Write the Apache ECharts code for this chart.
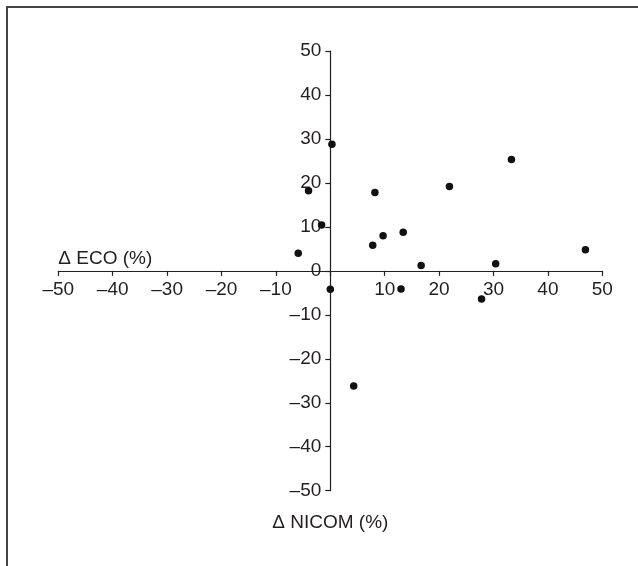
<!DOCTYPE html>
<html>
<head>
<meta charset="utf-8">
<script src="https://cdn.jsdelivr.net/npm/echarts@6/dist/echarts.min.js"></script>
<style>
  html, body { margin: 0; padding: 0; background: #fff; }
  #main { width: 638px; height: 566px; }
</style>
</head>
<body>
<div id="main"></div>
<script>
// Δ NICOM (%) / Δ ECO (%) readings, one pair per point
const nicom = [0.3, -4.0, 8.2, 21.9, 33.3, -1.6, -5.9, 7.8, 9.7, 13.4, 16.7, 30.4, 46.9, 0.0, 13.0, 27.8, 4.3];
const eco   = [28.8, 18.2, 17.8, 19.2, 25.3, 10.4, 4.0, 5.8, 8.0, 8.8, 1.2, 1.6, 4.8, -4.2, -4.1, -6.4, -26.2];

const axisMin = -50;
const axisMax = 50;
const axisStep = 10;

const ink = '#231f20';
const font = 'Liberation Sans, Arial, Helvetica, sans-serif';
const fs = 19;

function tickText(v) {
  return v < 0 ? '\u2013' + Math.abs(v) : String(v);
}

const points = nicom.map((x, i) => [x, eco[i]]);

// plot box
const W = 638, H = 566;
const gLeft = 58.3, gRight = 35.7, gTop = 51, gBottom = 75.3;
const plotW = W - gLeft - gRight;
const plotH = H - gTop - gBottom;

var myChart = echarts.init(document.getElementById('main'), null, { renderer: 'canvas' });

const option = {
  animation: false,
  backgroundColor: '#fff',
  textStyle: { fontFamily: font, color: ink },
  grid: { left: gLeft, right: gRight, top: gTop, bottom: gBottom, containLabel: false },
  // frame: only the top and left edges are drawn in the original
  graphic: [
    {
      type: 'polyline',
      shape: { points: [[7, H], [7, 7], [W, 7]] },
      style: { stroke: '#444', lineWidth: 2, fill: null },
      silent: true
    }
  ],
  xAxis: {
    type: 'value',
    min: axisMin,
    max: axisMax,
    interval: axisStep,
    position: 'bottom',
    // axes cross in the middle of the box (value 0)
    offset: -plotH / 2,
    splitLine: { show: false },
    axisLine: { onZero: false, lineStyle: { color: ink, width: 1.2 } },
    axisTick: { show: true, inside: false, length: 5, lineStyle: { color: ink, width: 1.2 } },
    axisLabel: {
      margin: 9,
      fontSize: fs,
      color: ink,
      fontFamily: font,
      formatter: v => (v === 0 ? '' : tickText(v))
    },
    name: '\u0394 ECO (%)',
    nameLocation: 'start',
    nameGap: 0,
    nameTextStyle: {
      fontSize: fs,
      color: ink,
      fontFamily: font,
      align: 'left',
      verticalAlign: 'bottom',
      padding: [0, 0, 3, 0]
    }
  },
  yAxis: {
    type: 'value',
    min: axisMin,
    max: axisMax,
    interval: axisStep,
    position: 'left',
    offset: -plotW / 2,
    splitLine: { show: false },
    axisLine: { onZero: false, lineStyle: { color: ink, width: 1.2 } },
    axisTick: { show: true, inside: false, length: 5, lineStyle: { color: ink, width: 1.2 } },
    axisLabel: {
      margin: 9,
      fontSize: fs,
      color: ink,
      fontFamily: font,
      formatter: v => tickText(v)
    },
    name: '\u0394 NICOM (%)',
    nameLocation: 'start',
    nameGap: 32,
    nameTextStyle: {
      fontSize: fs,
      color: ink,
      fontFamily: font,
      align: 'center',
      verticalAlign: 'middle'
    }
  },
  series: [
    {
      type: 'scatter',
      data: points,
      symbol: 'circle',
      symbolSize: 7.5,
      itemStyle: { color: '#111', opacity: 1 }
    }
  ]
};

myChart.setOption(option);
</script>
</body>
</html>
